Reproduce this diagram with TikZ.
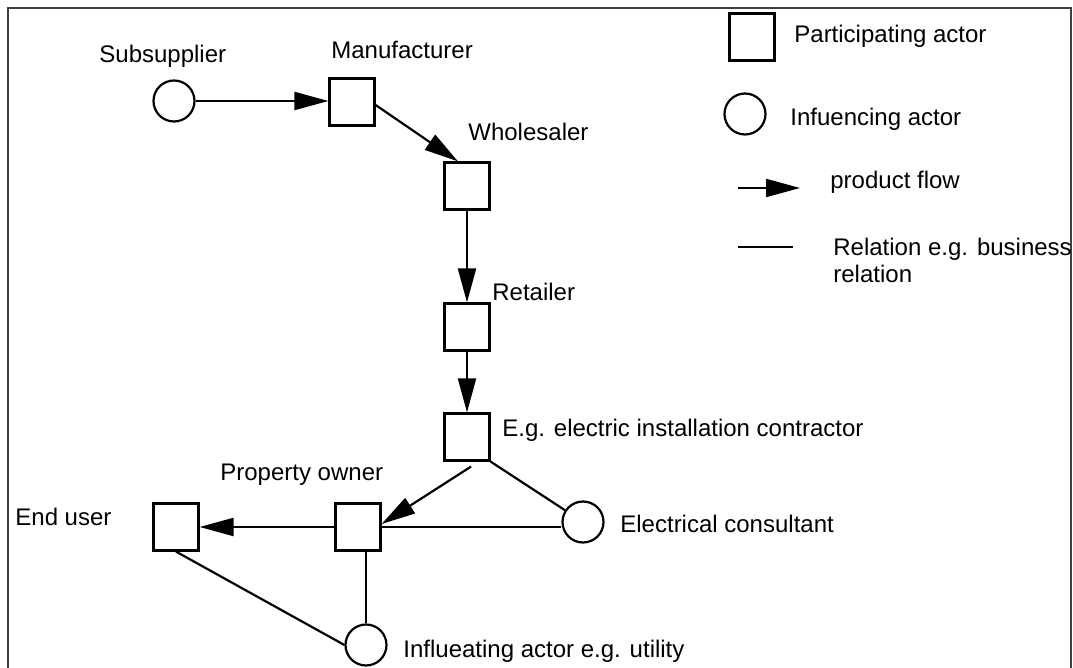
\documentclass[tikz,border=0pt]{standalone}
\usepackage{fontspec}
\setmainfont{Liberation Sans}
\usetikzlibrary{arrows.meta,positioning}
\tikzset
{
    actor/.style      = {rectangle, draw=black, line width=1.1pt, minimum width=22.5pt, minimum height=23.5pt, inner sep=0pt},
    influencer/.style = {circle, draw=black, line width=1.1pt, minimum size=20.5pt, inner sep=0pt},
    caption/.style    = {anchor=base west, inner sep=0pt, font=\fontsize{12}{13.75}\selectfont},
    flow/.style       = {-{Triangle[length=17pt, width=9pt]}, line width=1.1pt},
    relation/.style   = {line width=1.1pt}
}

\begin{document}
\begin{tikzpicture}[x=0.5pt, y=-0.5pt]
\useasboundingbox (0,0) rectangle (1073,668);
\draw[line width=1pt, black!75] (7.5,668) -- (7.5,8) -- (1071,8) -- (1071,668);

\node (sub)		[influencer]	at (174,101)	{};
\node (man)		[actor]			at (352,102)	{};
\node (whole)	[actor]			at (467,186)	{};
\node (ret)		[actor]			at (467,327)	{};
\node (con)		[actor]			at (467,437)	{};
\node (po)		[actor]			at (358,527)	{};
\node (eu)		[actor]			at (176,527)	{};
\node (cons)	[influencer]	at (583,522)	{};
\node (infl)	[influencer]	at (366,645)	{};

\node (subl)	[caption]	at (99,63)		{Subsupplier};
\node (manl)	[caption]	at (331,59)		{Manufacturer};
\node (wholel)	[caption]	at (468,141)	{Wholesaler};
\node (retl)	[caption]	at (492,301)	{Retailer};
\node (conl)	[caption]	at (502,437)	{E.g. electric installation contractor};
\node (pol)		[caption]	at (220,481)	{Property owner};
\node (eul)		[caption]	at (15,526)		{End user};
\node (consl)	[caption]	at (620,533)	{Electrical consultant};
\node (infll)	[caption]	at (403,658)	{Influeating actor e.g. utility};

% product flow
\path
(sub)					edge[flow]		(sub -| man.west)
([yshift=-1.5pt]man.east)	edge[flow]	([xshift=-4.5pt]whole.north)
(whole)					edge[flow]		(ret)
(ret)					edge[flow]		(con)
([xshift=2pt,yshift=-2.5pt]con.south)	edge[flow]	([yshift=1.5pt]po.east)
(po)					edge[flow]		(eu);

% relations
\path
(con.south east)		edge[relation]	(cons)
(po.east)				edge[relation]	(po.east -| cons.west)
(eu.south)				edge[relation]	(infl.west)
(infl.north |- po.south)	edge[relation]	(infl);

%% legend
\node (lbox)	[actor]			at (752,37)		{};
\node (lcirc)	[influencer]	at (745,114)	{};
\coordinate (lflowa)	at (738,188);
\coordinate (lflowb)	at (800,188);
\coordinate (lrela)		at (738,247);
\coordinate (lrelb)		at (793,247);
\draw[flow] (lflowa) -- (lflowb);
\draw[relation] (lrela) -- (lrelb);
\node (lboxl)	[caption]	at (794,43)		{Participating actor};
\node (lcircl)	[caption]	at (790,126)	{Infuencing actor};
\node (lflowl)	[caption]	at (830,189)	{product flow};
\node (lrell)	[caption, align=left]	at (833,283)	{Relation e.g. business\\relation};
\end{tikzpicture}
\end{document}
